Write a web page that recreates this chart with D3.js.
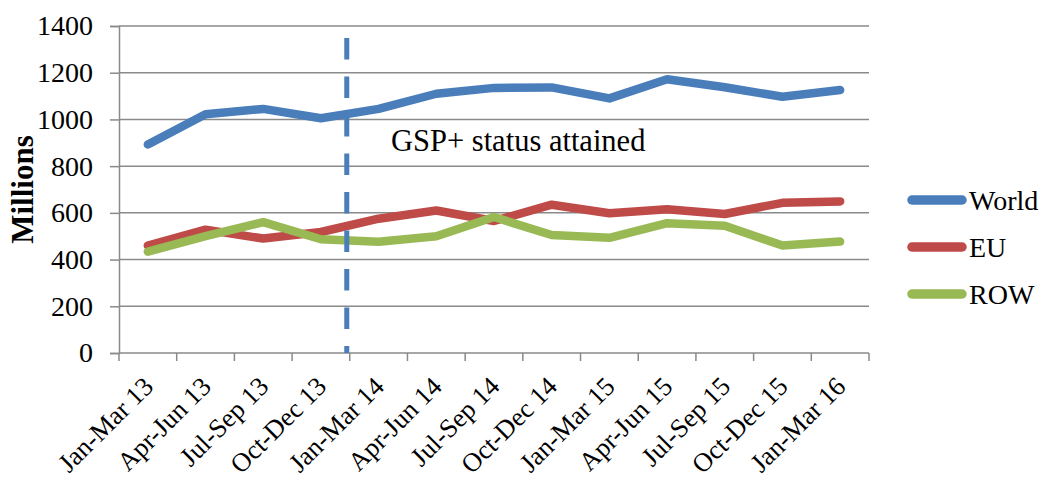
<!DOCTYPE html>
<html>
<head>
<meta charset="utf-8">
<script src="https://cdn.jsdelivr.net/npm/d3@7"></script>
<style>
  body { margin: 0; background: #fff; }
  text { font-family: "Liberation Serif", "DejaVu Serif", serif; fill: #000; }
</style>
</head>
<body>
<div id="chart"></div>
<script>
const quarters = ["Jan-Mar 13", "Apr-Jun 13", "Jul-Sep 13", "Oct-Dec 13", "Jan-Mar 14", "Apr-Jun 14",
	"Jul-Sep 14", "Oct-Dec 14", "Jan-Mar 15", "Apr-Jun 15", "Jul-Sep 15", "Oct-Dec 15", "Jan-Mar 16"];
const world = [893, 1022, 1045, 1005, 1045, 1110, 1135, 1137, 1090, 1172, 1138, 1097, 1126];
const eu = [460, 528, 490, 518, 575, 610, 565, 635, 598, 615, 595, 643, 649];
const row = [434, 500, 560, 487, 476, 500, 582, 505, 493, 556, 545, 460, 477];
const yTicks = [0, 200, 400, 600, 800, 1000, 1200, 1400];
const seriesNames = ["World", "EU", "ROW"];
const colors = ["#4a7ebb", "#be4b48", "#98b954"];
const markerQuarter = "Jan-Mar 14";
const note = "GSP+ status attained";

const w = 1042;
const h = 481;
const margin = { top: 26, bottom: 128, left: 119, right: 173 };

const svg = d3.select("#chart")
	.append("svg")
	.attr("width", w)
	.attr("height", h);

const x = d3.scaleBand()
	.domain(quarters)
	.range([margin.left, w - margin.right]);

const y = d3.scaleLinear()
	.domain([0, 1400])
	.range([h - margin.bottom, margin.top]);

// gridlines
svg.append("g")
	.selectAll("line")
	.data(yTicks.slice(1))
	.join("line")
		.attr("x1", margin.left)
		.attr("x2", w - margin.right)
		.attr("y1", d => y(d))
		.attr("y2", d => y(d))
		.attr("stroke", "#8a8a8a")
		.attr("stroke-width", 1.5);

// axes
function yAxis(g) {
	g.attr("transform", `translate(${margin.left}, 0)`)
	.call(d3.axisLeft(y).tickValues(yTicks).tickSize(9).tickPadding(17).tickFormat(d3.format("d")))
	.attr("font-size", "28px")
	.attr("font-family", "Liberation Serif, serif");
	g.selectAll("line, path").attr("stroke", "#8a8a8a").attr("stroke-width", 1.5);
}

function xAxis(g) {
	g.attr("transform", `translate(0, ${h - margin.bottom})`);
	g.append("line")
		.attr("x1", margin.left).attr("x2", w - margin.right)
		.attr("stroke", "#8a8a8a").attr("stroke-width", 1.5);
	g.selectAll(".tk")
		.data(quarters.concat(["end"]))
		.join("line")
			.attr("class", "tk")
			.attr("x1", (d, i) => margin.left + i * x.bandwidth())
			.attr("x2", (d, i) => margin.left + i * x.bandwidth())
			.attr("y2", 8)
			.attr("stroke", "#8a8a8a").attr("stroke-width", 1.5);
	g.selectAll("text")
		.data(quarters)
		.join("text")
			.attr("transform", d => `translate(${x(d) + x.bandwidth() / 2 + 7}, 35) rotate(-45)`)
			.attr("text-anchor", "end")
			.attr("font-size", "26.5px")
			.text(d => d);
}

svg.append("g").call(yAxis);
svg.append("g").call(xAxis);

svg.append("text")
	.attr("transform", `translate(33, ${(y(0) + y(1400)) / 2}) rotate(-90)`)
	.attr("text-anchor", "middle")
	.attr("font-size", "31px")
	.attr("font-weight", "bold")
	.text("Millions");

// lines
const line = d3.line()
	.x((d, i) => x(quarters[i]) + x.bandwidth() / 2)
	.y(d => y(d));

const series = [world, eu, row];

svg.append("g")
	.selectAll("path")
	.data(series)
	.join("path")
		.attr("d", d => line(d))
		.attr("fill", "none")
		.attr("stroke", (d, i) => colors[i])
		.attr("stroke-width", 8.5)
		.attr("stroke-linejoin", "round")
		.attr("stroke-linecap", "round");

// marker
const mx = x(markerQuarter) - 3;
svg.append("line")
	.attr("x1", mx).attr("x2", mx)
	.attr("y1", y(1400) + 12)
	.attr("y2", y(0))
	.attr("stroke", colors[0])
	.attr("stroke-width", 5)
	.attr("stroke-dasharray", "21.5 17");

svg.append("text")
	.attr("x", 391)
	.attr("y", 151)
	.attr("font-size", "30.5px")
	.text(note);

// legend
const legend = svg.append("g")
	.selectAll("g")
	.data(seriesNames)
	.join("g")
		.attr("transform", (d, i) => `translate(912, ${200 + i * 47})`);

legend.append("line")
	.attr("x2", 50)
	.attr("stroke", (d, i) => colors[i])
	.attr("stroke-width", 9.5)
	.attr("stroke-linecap", "round");

legend.append("text")
	.attr("x", 57)
	.attr("dy", "0.35em")
	.attr("font-size", "28px")
	.text(d => d);
</script>
</body>
</html>
